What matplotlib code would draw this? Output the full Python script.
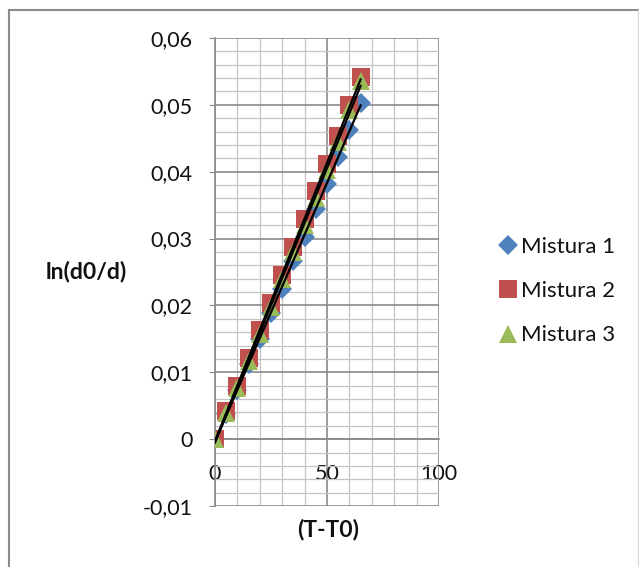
import matplotlib
matplotlib.use("Agg")
import matplotlib.pyplot as plt
from matplotlib.lines import Line2D
from matplotlib.ticker import MultipleLocator, FuncFormatter
import numpy as np

# data
x_vals = [0, 5, 10, 15, 20, 25, 30, 35, 40, 45, 50, 55, 60, 65]
mistura_1 = [0, 0.0037, 0.0074, 0.0112, 0.0150, 0.0188, 0.0225, 0.0266,
             0.0303, 0.0344, 0.0382, 0.0422, 0.0463, 0.0503]
mistura_2 = [0, 0.0042, 0.0080, 0.0121, 0.0163, 0.0204, 0.0246, 0.0287,
             0.0329, 0.0371, 0.0411, 0.0454, 0.0500, 0.0541]
mistura_3 = [0, 0.0039, 0.0077, 0.0117, 0.0158, 0.0198, 0.0239, 0.0280,
             0.0320, 0.0360, 0.0402, 0.0445, 0.0492, 0.0536]
series_labels = ["Mistura 1", "Mistura 2", "Mistura 3"]

_COLORS = ["#4f81bd", "#c0504d", "#9bbb59"]
_MARKERS = ["D", "s", "^"]
_MSIZE = [10.0, 12.5, 13.0]
_MAJOR_GRID = "#8a8a8a"
_MINOR_GRID = "#c4c4c4"
_TXT = "#111111"

plt.rcParams["font.family"] = ["Lato", "DejaVu Sans"]

fig = plt.figure(figsize=(6.39, 5.67), dpi=100)
ax = fig.add_axes([215 / 639, 1 - 506 / 567, 224 / 639, 468 / 567])

ys = [mistura_1, mistura_2, mistura_3]
for y, lab, col, mk, ms in zip(ys, series_labels, _COLORS, _MARKERS, _MSIZE):
    ax.plot(x_vals, y, linestyle="none", marker=mk, markersize=ms,
            color=col, markeredgewidth=0, label=lab, zorder=3)

# linear trendlines (Excel style), drawn over the markers
xs = np.array(x_vals, dtype=float)
for y in ys:
    k, b = np.polyfit(xs, np.array(y), 1)
    ax.plot([xs.min(), xs.max()], [k * xs.min() + b, k * xs.max() + b],
            color="black", linewidth=1.6, zorder=4)

ax.set_xlim(0, 100)
ax.set_ylim(-0.01, 0.06)
ax.xaxis.set_major_locator(MultipleLocator(50))
ax.xaxis.set_minor_locator(MultipleLocator(10))
ax.yaxis.set_major_locator(MultipleLocator(0.01))
ax.yaxis.set_minor_locator(MultipleLocator(0.002))

ax.grid(which="major", color=_MAJOR_GRID, linewidth=1.2, zorder=0)
ax.grid(which="minor", color=_MINOR_GRID, linewidth=0.9, zorder=0)
ax.set_axisbelow(True)


def _comma(v, _pos):
    if abs(v) < 1e-12:
        return "0"
    return f"{v:.2f}".replace(".", ",")


ax.yaxis.set_major_formatter(FuncFormatter(_comma))
ax.xaxis.set_major_formatter(FuncFormatter(lambda v, p: f"{v:.0f}"))

for side in ("top", "right"):
    ax.spines[side].set_visible(False)
ax.spines["left"].set_color(_MAJOR_GRID)
ax.spines["left"].set_linewidth(1.2)
ax.spines["bottom"].set_position(("data", 0))
ax.spines["bottom"].set_color(_MAJOR_GRID)
ax.spines["bottom"].set_linewidth(1.2)

ax.tick_params(axis="y", which="major", direction="out", length=4,
               color=_MAJOR_GRID, labelsize=15.5, pad=12, labelcolor=_TXT)
ax.tick_params(axis="y", which="minor", length=0)
ax.tick_params(axis="x", which="both", length=0, labelsize=15.5, pad=18,
               labelcolor=_TXT)

fig.text(86 / 639, 1 - 272 / 567, "ln(d0/d)", fontsize=16.5, fontweight="bold",
         ha="center", va="center", color=_TXT)
fig.text(328 / 639, 1 - 530 / 567, "(T-T0)", fontsize=16.5, fontweight="bold",
         ha="center", va="center", color=_TXT)

handles = [
    Line2D([], [], linestyle="none", marker=m, markersize=s,
           color=c, markeredgewidth=0)
    for m, s, c in zip(_MARKERS, _MSIZE, _COLORS)
]
fig.legend(handles, series_labels, loc="center left",
           bbox_to_anchor=(489 / 639, 1 - 291 / 567), frameon=False,
           fontsize=16, handlelength=0.7, handletextpad=0.25,
           labelspacing=1.1, borderpad=0, labelcolor=_TXT)

# outer chart border (left, top, right)
bc = "#8c8c8c"
fig.add_artist(Line2D([8.5 / 639, 8.5 / 639], [0, 1 - 10 / 567],
                      transform=fig.transFigure, color=bc, linewidth=1.5))
fig.add_artist(Line2D([8.5 / 639, 1], [1 - 10 / 567, 1 - 10 / 567],
                      transform=fig.transFigure, color=bc, linewidth=1.5))
fig.add_artist(Line2D([637.5 / 639, 637.5 / 639], [0, 1 - 10 / 567],
                      transform=fig.transFigure, color="#d9d9d9", linewidth=1))

fig.savefig("out.png", dpi=100)
